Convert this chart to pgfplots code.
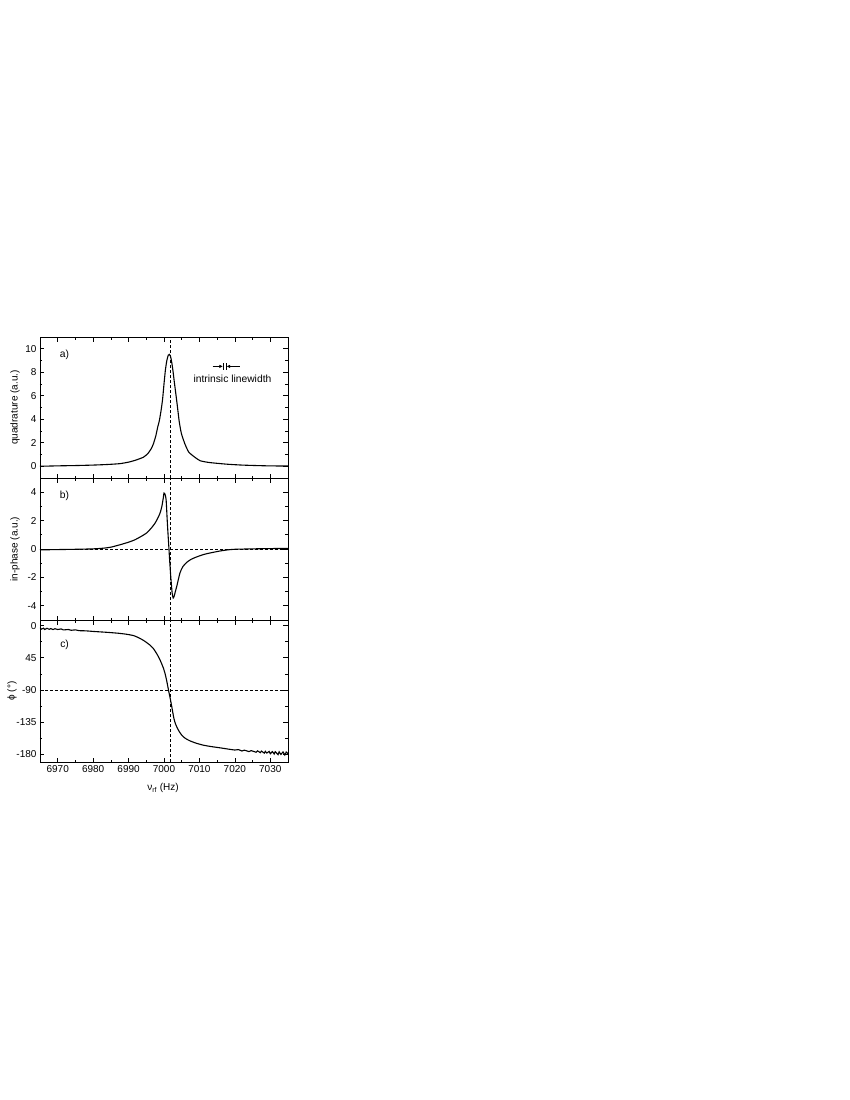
\documentclass[border=0pt]{standalone}
\usepackage{fontspec}
\setmainfont{Liberation Sans}
\usepackage{pgfplots}
\pgfplotsset{compat=1.18}
\usetikzlibrary{arrows.meta}

\pgfplotsset{
 panel/.style={
  width=248pt, height=141pt, scale only axis,
  xmin=6965, xmax=7035,
  xtick={6970,6980,...,7030},
  minor x tick num=1,
  minor y tick num=1,
  tick align=inside,
  major tick length=4.5pt, minor tick length=2.5pt,
  every tick/.style={black, line width=0.7pt},
  axis line style={line width=0.8pt},
  tick label style={font=\fontsize{10}{12}\selectfont},
  label style={font=\fontsize{10.3}{12}\selectfont},
  /pgf/number format/assume math mode=true,
  /pgf/number format/set thousands separator={},
  every axis y label/.style={at={(axis description cs:-0.101,0.5)}, rotate=90, anchor=center},
  every axis x label/.style={at={(axis description cs:0.496,-0.183)}, anchor=center},
 },
 curve/.style={black, line width=1.1pt, no marks, smooth, tension=0.35},
 ref/.style={black, dashed, line width=0.7pt, dash pattern=on 3pt off 2pt, no marks},
}

\begin{document}
\begin{tikzpicture}[x=1pt,y=1pt]
\path (0,0) rectangle (850,-1100);

% ---------- panel a ----------
\begin{axis}[panel, at={(40pt,-337pt)}, anchor=north west,
  ymin=-1, ymax=11, ytick={0,2,...,10}, xticklabels={},
  ylabel={quadrature (a.u.)}]
\addplot[ref] coordinates {(7001.8,-1) (7001.8,11)};
\addplot[curve] coordinates {
(6965,0.0) (6968,0.02) (6971,0.04) (6975,0.06) (6980,0.1) (6984,0.15) (6987.5,0.22)
(6990,0.35) (6992,0.52) (6994.2,0.77) (6995.5,1.1) (6996.4,1.5) (6997,1.9)
(6997.7,2.6) (6998.2,3.3) (6998.7,3.9) (6999.2,4.8) (6999.6,5.7) (7000,7.0)
(7000.4,8.2) (7000.8,9.0) (7001.2,9.45) (7001.5,9.52) (7001.8,9.4) (7002.1,9.0)
(7002.5,8.2) (7002.9,7.2) (7003.2,6.5) (7003.7,5.3) (7004.3,3.8) (7004.9,2.8)
(7005.9,1.9) (7007,1.2) (7008.7,0.77) (7010.2,0.47) (7012.5,0.33) (7015,0.25)
(7018,0.17) (7022,0.1) (7026,0.06) (7030,0.03) (7035,0.02)
};
\node[font=\fontsize{10.3}{12}\selectfont] at (axis description cs:0.099,0.872) {a)};
\node[font=\fontsize{10.3}{12}\selectfont] at (axis description cs:0.776,0.702) {intrinsic linewidth};
\draw[line width=0.6pt] (axis cs:7016.7,8.2) -- (axis cs:7016.7,8.8);
\draw[line width=0.6pt] (axis cs:7017.6,8.2) -- (axis cs:7017.6,8.8);
\draw[line width=0.6pt,-{Latex[length=3.5pt,width=3.5pt]}] (axis cs:7013.7,8.5) -- (axis cs:7016.6,8.5);
\draw[line width=0.6pt,-{Latex[length=3.5pt,width=3.5pt]}] (axis cs:7021.4,8.5) -- (axis cs:7017.7,8.5);
\end{axis}

% ---------- panel b ----------
\begin{axis}[panel, at={(40pt,-478pt)}, anchor=north west, height=142pt,
  ymin=-5, ymax=5, ytick={-4,-2,0,2,4}, xticklabels={},
  ylabel={in-phase (a.u.)}]
\addplot[ref] coordinates {(7001.8,-5) (7001.8,5)};
\addplot[ref] coordinates {(6965,0) (7035,0)};
\addplot[curve] coordinates {
(6965,-0.06) (6970,-0.04) (6975,-0.02) (6980,0.01) (6983,0.06) (6985,0.13)
(6987.6,0.30) (6990,0.48) (6991.8,0.65) (6993.5,0.88) (6995.1,1.13) (6996.5,1.5)
(6997.5,1.83) (6998.3,2.2) (6998.9,2.54) (6999.4,3.0) (6999.8,3.6) (7000.0,3.94)
(7000.3,3.85) (7000.6,3.47) (7000.9,2.06) (7001.15,1.0) (7001.4,0) (7001.65,-1.0)
(7001.9,-1.93) (7002.3,-3.1) (7002.6,-3.45) (7002.9,-3.3) (7003.2,-3.0) (7003.6,-2.63)
(7004.5,-1.69) (7005.3,-1.25) (7006.4,-0.94) (7007.7,-0.72) (7009.2,-0.56) (7011,-0.4)
(7013,-0.28) (7015.8,-0.14) (7018,-0.06) (7020,-0.02) (7025,0.01) (7030,0.03) (7035,0.04)
};
\node[font=\fontsize{10.3}{12}\selectfont] at (axis description cs:0.099,0.873) {b)};
\end{axis}

% ---------- panel c ----------
\begin{axis}[panel, at={(40pt,-620pt)}, anchor=north west, height=142pt,
  ymin=-191, ymax=8, ytick={-180,-135,-90,-45,0}, yticklabels={-180,-135,-90,45,0},
  every axis y label/.style={at={(axis description cs:-0.113,0.5)}, rotate=90, anchor=center},
  ylabel={ϕ (°)}, xlabel={ν\textsubscript{rf} (Hz)}]
\addplot[ref] coordinates {(7001.8,-191) (7001.8,8)};
\addplot[ref] coordinates {(6965,-90) (7035,-90)};
\addplot[curve] coordinates {
(6965,-2.5) (6965.4,-4.8) (6966,-3.4) (6966.3,-5.3) (6967,-3.6) (6967.6,-5.1)
(6968,-4.0) (6968.7,-5.4) (6969.2,-4.2) (6970,-5.3) (6971,-4.5) (6971.6,-5.9)
(6973,-5.3) (6973.8,-6.4) (6975,-5.8) (6976,-6.9) (6978,-7.2) (6980,-8.0)
(6984,-9.3) (6987,-10.5) (6989.5,-12) (6991.5,-14) (6993.2,-17.7) (6994.5,-21.5)
(6996,-27) (6997,-32) (6997.9,-38.8) (6998.7,-46) (6999.3,-52.8) (6999.8,-59)
(7000.3,-67) (7000.8,-78) (7001.3,-91) (7001.8,-103) (7002.2,-113.6) (7002.5,-122)
(7002.8,-130) (7003.2,-137) (7003.6,-141.7) (7004.2,-147.5) (7005,-153.3) (7006,-157.8)
(7007.3,-161.3) (7009,-164.5) (7011.1,-167.4) (7013.5,-169.5) (7015.8,-171.1) (7018,-172.8)
(7020,-174.2) (7021,-173.6) (7022,-175.6) (7022.7,-174.4) (7024,-176.4) (7024.6,-175.0)
(7026,-177.3) (7026.4,-175.4) (7027.2,-177.9) (7027.5,-175.7) (7028.3,-178.5) (7028.6,-176.0)
(7029,-178.4) (7029.7,-176.2) (7030,-179.4) (7030.6,-176.4) (7031.1,-179.8) (7031.4,-176.6)
(7032.2,-180.6) (7032.5,-176.7) (7033,-180.4) (7033.6,-176.9) (7034.1,-181.2) (7034.5,-177.0)
(7035,-179.5)
};
\node[font=\fontsize{10.3}{12}\selectfont] at (axis description cs:0.099,0.824) {c)};
\end{axis}
\end{tikzpicture}
\end{document}
